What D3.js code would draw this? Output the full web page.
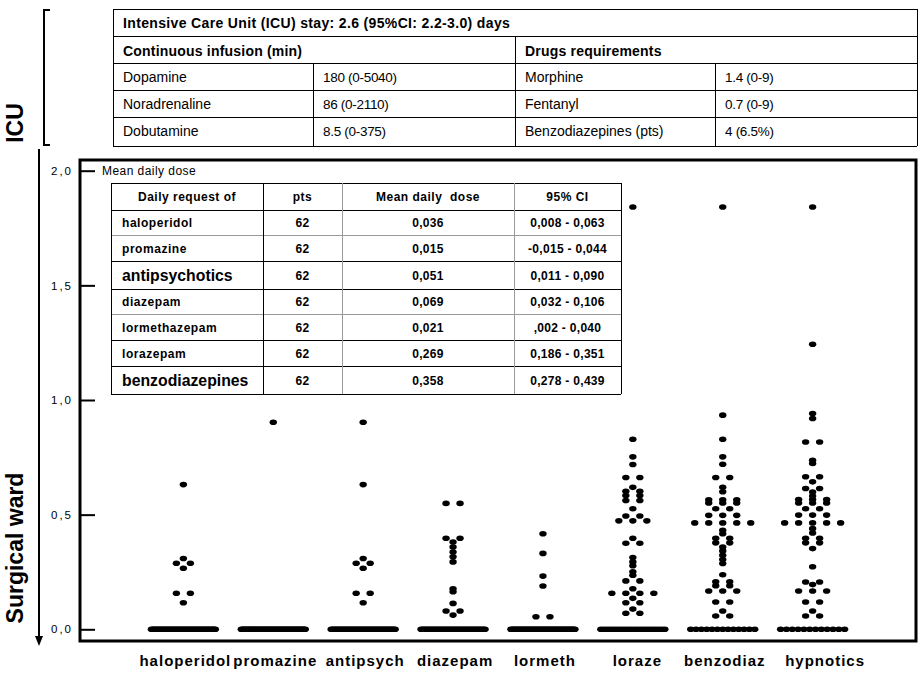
<!DOCTYPE html>
<html><head><meta charset="utf-8">
<script src="https://cdn.jsdelivr.net/npm/d3@7"></script>
<style>
body{margin:0;background:#fff}
svg{display:block;background:#fff}
text{font-family:"Liberation Sans",Arial,Helvetica,sans-serif;fill:#000}
</style>
</head><body>
<svg id="chart" width="924" height="679"></svg>
<script>
// ---------------- DATA ----------------
const categories = ["haloperidol","promazine","antipsych","diazepam","lormeth","loraze","benzodiaz","hypnotics"];
const patients = 62;
// non-zero mean daily doses per patient (remaining patients = 0)
const haloperidolValues = [0.631,0.309,0.288,0.288,0.266,0.157,0.157,0.116];
const promazineValues = [0.903];
const antipsychValues = [0.903,0.631,0.309,0.288,0.288,0.266,0.157,0.157,0.116];
const diazepamValues = [0.549,0.549,0.397,0.397,0.381,0.359,0.337,0.316,0.294,0.177,0.164,0.113,0.080,0.080,0.062];
const lormethValues = [0.417,0.331,0.232,0.189,0.055,0.055];
const lorazeValues = [1.842,0.829,0.752,0.719,0.662,0.662,0.619,0.602,0.602,0.583,0.583,0.562,0.562,0.526,0.494,0.494,
  0.473,0.473,0.473,0.397,0.375,0.375,0.313,0.294,0.277,0.251,0.236,0.211,0.211,0.177,0.157,0.157,0.157,0.157,
  0.135,0.116,0.116,0.088,0.070,0.070];
const benzodiazValues = [1.842,0.934,0.829,0.752,0.720,0.662,0.662,0.619,0.600,0.565,0.565,0.565,0.551,0.551,0.551,
  0.526,0.526,0.497,0.497,0.497,0.464,0.464,0.464,0.464,0.464,0.432,0.417,0.397,0.397,0.377,0.377,
  0.359,0.342,0.323,0.304,0.287,0.238,0.207,0.207,0.190,0.190,0.167,0.167,0.167,0.119,0.119,0.080,0.058,0.058];
const hypnoticsValues = [1.842,1.243,0.941,0.919,0.817,0.817,0.737,0.723,0.665,0.665,0.643,0.614,0.614,0.599,0.581,
  0.566,0.566,0.566,0.551,0.551,0.551,0.526,0.526,0.498,0.498,0.498,0.464,0.464,0.464,0.464,0.464,0.439,0.420,
  0.397,0.397,0.377,0.377,0.352,0.273,0.206,0.206,0.195,0.167,0.167,0.167,0.119,0.119,0.080,0.058,0.058];
const seriesValues = [haloperidolValues,promazineValues,antipsychValues,diazepamValues,lormethValues,lorazeValues,benzodiazValues,hypnoticsValues];

const yTickValues = [0,0.5,1,1.5,2];
const yTickLabels = ["0,0","0,5","1,0","1,5","2,0"];
const yTitle = "Mean daily dose";

// ICU table
const icuTitle = "Intensive Care Unit (ICU) stay: 2.6 (95%CI: 2.2-3.0) days";
const infusionTitle = "Continuous infusion (min)";
const infusionNames = ["Dopamine","Noradrenaline","Dobutamine"];
const infusionValues = ["180 (0-5040)","86 (0-2110)","8.5 (0-375)"];
const drugsTitle = "Drugs requirements";
const drugNames = ["Morphine","Fentanyl","Benzodiazepines (pts)"];
const drugValues = ["1.4 (0-9)","0.7 (0-9)","4 (6.5%)"];

// surgical ward table
const tableHeader = ["Daily request of","pts","Mean daily  dose","95% CI"];
const tableDrugs = ["haloperidol","promazine","antipsychotics","diazepam","lormethazepam","lorazepam","benzodiazepines"];
const tablePts = [62,62,62,62,62,62,62];
const tableMeans = ["0,036","0,015","0,051","0,069","0,021","0,269","0,358"];
const tableCI = ["0,008 - 0,063","-0,015 - 0,044","0,011 - 0,090","0,032 - 0,106",",002 - 0,040","0,186 - 0,351","0,278 - 0,439"];
const tableTotals = ["antipsychotics","benzodiazepines"];

// ---------------- DRAW ----------------
const svg = d3.select("#chart");
svg.append("rect").attr("width",924).attr("height",679).attr("fill","#fff");

const frame = {left:80, right:916, top:160, bottom:641};
const x = d3.scalePoint().domain(categories).range([frame.left, frame.right]).padding(1.15);
const y = d3.scaleLinear().domain([0,2]).range([629.3,170.7]);

// ---- ICU top table ----
const tt = svg.append("g");
const tCols = [113,313,515,715,917];
const tRows = [9,36,63,90,117,146];
const line = (g,x1,y1,x2,y2,c="#000",w=1)=>g.append("line").attr("x1",x1).attr("y1",y1).attr("x2",x2).attr("y2",y2).attr("stroke",c).attr("stroke-width",w).attr("shape-rendering","crispEdges");
tRows.forEach(r=>line(tt,tCols[0],r,tCols[4],r));
line(tt,tCols[0],tRows[0],tCols[0],tRows[5]);
line(tt,tCols[4],tRows[0],tCols[4],tRows[5]);
line(tt,tCols[2],tRows[1],tCols[2],tRows[5]);
line(tt,tCols[1],tRows[2],tCols[1],tRows[5]);
line(tt,tCols[3],tRows[2],tCols[3],tRows[5]);
tt.append("text").attr("x",123).attr("y",28).attr("font-size",14).attr("font-weight","bold").attr("letter-spacing",0.35).text(icuTitle);
tt.append("text").attr("x",123).attr("y",55.5).attr("font-size",14).attr("font-weight","bold").attr("letter-spacing",0.2).text(infusionTitle);
tt.append("text").attr("x",525).attr("y",55.5).attr("font-size",14).attr("font-weight","bold").attr("letter-spacing",0.2).text(drugsTitle);
infusionNames.forEach((n,i)=>{
  tt.append("text").attr("x",123).attr("y",tRows[2+i]+18.5).attr("font-size",14).text(n);
  tt.append("text").attr("x",323).attr("y",tRows[2+i]+18.5).attr("font-size",13.5).attr("letter-spacing",-0.3).text(infusionValues[i]);
});
drugNames.forEach((n,i)=>{
  tt.append("text").attr("x",525).attr("y",tRows[2+i]+18.5).attr("font-size",14).text(n);
  tt.append("text").attr("x",725).attr("y",tRows[2+i]+18.5).attr("font-size",13.5).attr("letter-spacing",-0.3).text(drugValues[i]);
});

// ---- left brackets / labels ----
const lg = svg.append("g");
line(lg,44,9,44,146,"#000",2);
line(lg,43,10,50,10,"#000",2);
line(lg,43,145,50,145,"#000",2);
lg.append("text").attr("transform","translate(23,123) rotate(-90)").attr("text-anchor","middle")
  .attr("font-size",23).attr("font-weight","bold").text("ICU");
line(lg,39,149,39,638,"#000",2);
lg.append("path").attr("d","M35,636 L43,636 L39,646 Z").attr("fill","#000");
lg.append("text").attr("transform","translate(23,548) rotate(-90)").attr("text-anchor","middle")
  .attr("font-size",23).attr("font-weight","bold").text("Surgical ward");

// ---- chart frame ----
svg.append("rect").attr("x",frame.left).attr("y",frame.top)
  .attr("width",frame.right-frame.left).attr("height",frame.bottom-frame.top)
  .attr("fill","none").attr("stroke","#000").attr("stroke-width",3);

// y axis (ticks inside frame)
const yAxis = d3.axisLeft(y).tickValues(yTickValues).tickSizeInner(14).tickSizeOuter(0).tickPadding(8)
  .tickFormat((d,i)=>yTickLabels[i]);
const ya = svg.append("g").attr("transform","translate(95,0)").call(yAxis);
ya.select(".domain").remove();
ya.selectAll(".tick line").attr("stroke","#000").attr("stroke-width",2);
ya.selectAll(".tick text").attr("font-size",11.5).attr("letter-spacing",2).attr("font-family","Liberation Sans, Arial, sans-serif").attr("fill","#000");
svg.append("text").attr("x",102).attr("y",175).attr("font-size",12).attr("letter-spacing",0.45).text(yTitle);

// x axis labels
const xAxis = d3.axisBottom(x).tickSize(0).tickPadding(14);
const xa = svg.append("g").attr("transform",`translate(0,${frame.bottom})`).call(xAxis);
xa.select(".domain").remove();
const labelShift = {loraze:4, hypnotics:12};
xa.selectAll(".tick text").attr("font-size",15).attr("font-weight","bold").attr("letter-spacing",1)
  .attr("dx",d=>labelShift[d]||1.5)
  .attr("font-family","Liberation Sans, Arial, sans-serif").attr("fill","#000");

// ---- dots (dot-plot rows: equal values share a row) ----
function layoutDots(vals){
  const all = vals.concat(d3.range(patients - vals.length).map(()=>0));
  const out = [];
  d3.groups(all, d=>d).forEach(([v,arr])=>{
    const k = arr.length;
    const s = k>1 ? Math.min(14, 64/(k-1)) : 0;
    arr.forEach((_,i)=>out.push({v, dx:(i-(k-1)/2)*s}));
  });
  return out;
}
const dotsG = svg.append("g");
categories.forEach((c,ci)=>{
  const pts = layoutDots(seriesValues[ci]);
  dotsG.selectAll(null).data(pts).enter().append("ellipse")
    .attr("cx",d=>x(c)+d.dx).attr("cy",d=>y(d.v))
    .attr("rx",3.7).attr("ry",2.8).attr("fill","#000");
});

// ---- inner table ----
const it = svg.append("g");
const iCols = [111,263,342,514,621];
const iRows = [183,210,235,261,289,314,340,366,394];
const grayRows = [235,314];
iRows.forEach((r,i)=>line(it,iCols[0],r,iCols[4],r, grayRows.includes(r)?"#999":"#000"));
line(it,iCols[0],iRows[0],iCols[0],iRows[8]);
line(it,iCols[4],iRows[0],iCols[4],iRows[8]);
line(it,iCols[1],iRows[0],iCols[1],iRows[8]);
line(it,iCols[2],iRows[0],iCols[2],iRows[8],"#999");
line(it,iCols[3],iRows[0],iCols[3],iRows[8],"#999");
const mid = i=>(iCols[i]+iCols[i+1])/2;
tableHeader.forEach((h,i)=>{
  it.append("text").attr("x",mid(i)).attr("y",(iRows[0]+iRows[1])/2+4.5).attr("text-anchor","middle")
    .attr("font-size",12).attr("font-weight","bold").attr("letter-spacing",0.5).attr("xml:space","preserve").text(h);
});
tableDrugs.forEach((d,i)=>{
  const yy = (iRows[i+1]+iRows[i+2])/2;
  const big = tableTotals.includes(d);
  it.append("text").attr("x",122).attr("y",yy+(big?5.5:4.5)).attr("font-size",big?15.8:12)
    .attr("font-weight","bold").attr("letter-spacing",big?0:0.55).text(d);
  it.append("text").attr("x",mid(1)).attr("y",yy+4.5).attr("text-anchor","middle").attr("font-size",12)
    .attr("font-weight","bold").attr("letter-spacing",0.3).text(tablePts[i]);
  it.append("text").attr("x",mid(2)).attr("y",yy+4.5).attr("text-anchor","middle").attr("font-size",12)
    .attr("font-weight","bold").attr("letter-spacing",0.3).text(tableMeans[i]);
  it.append("text").attr("x",mid(3)).attr("y",yy+4.5).attr("text-anchor","middle").attr("font-size",12)
    .attr("font-weight","bold").attr("letter-spacing",0.3).text(tableCI[i]);
});
</script>
</body></html>
